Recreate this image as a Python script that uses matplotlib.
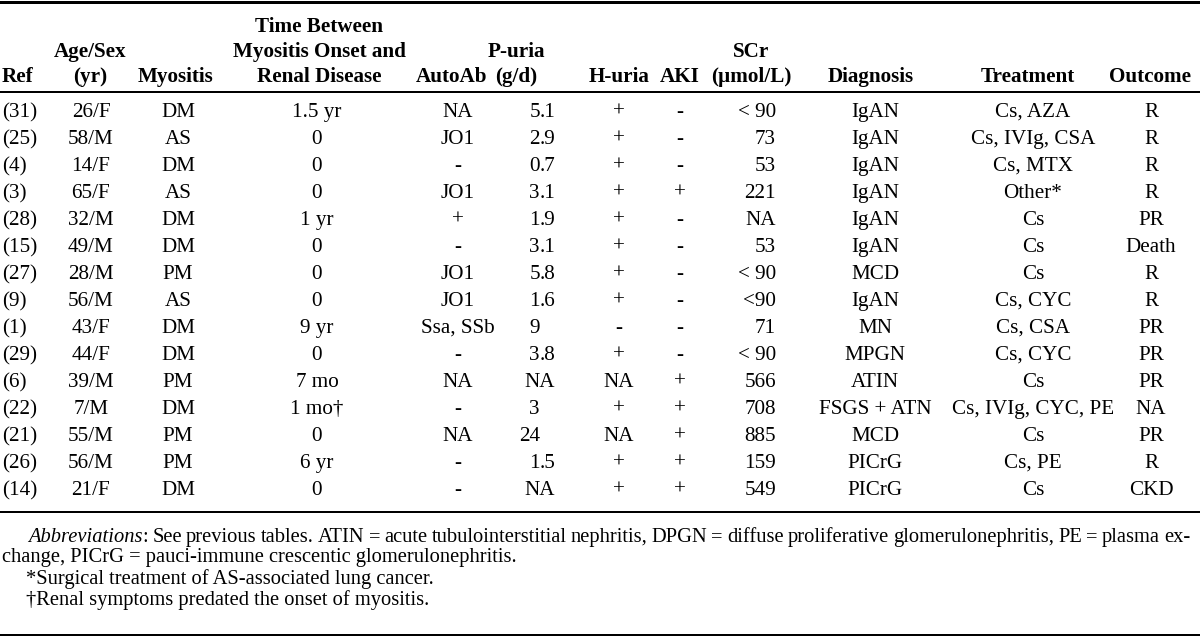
import matplotlib
matplotlib.use("Agg")
import matplotlib.pyplot as plt

# ---------------- data ----------------
refs = ["(31)", "(25)", "(4)", "(3)", "(28)", "(15)", "(27)", "(9)", "(1)", "(29)",
        "(6)", "(22)", "(21)", "(26)", "(14)"]
age_sex = ["26/F", "58/M", "14/F", "65/F", "32/M", "49/M", "28/M", "56/M", "43/F",
           "44/F", "39/M", "7/M", "55/M", "56/M", "21/F"]
myositis = ["DM", "AS", "DM", "AS", "DM", "DM", "PM", "AS", "DM", "DM", "PM", "DM",
            "PM", "PM", "DM"]
time_between = ["1.5 yr", "0", "0", "0", "1 yr", "0", "0", "0", "9 yr", "0", "7 mo",
                "1 mo\u2020", "0", "6 yr", "0"]
autoab = ["NA", "JO1", "-", "JO1", "+", "-", "JO1", "JO1", "Ssa, SSb", "-", "NA", "-",
          "NA", "-", "-"]
puria = ["5.1", "2.9", "0.7", "3.1", "1.9", "3.1", "5.8", "1.6", "9", "3.8", "NA", "3",
         "24", "1.5", "NA"]
huria = ["+", "+", "+", "+", "+", "+", "+", "+", "-", "+", "NA", "+", "NA", "+", "+"]
aki = ["-", "-", "-", "+", "-", "-", "-", "-", "-", "-", "+", "+", "+", "+", "+"]
scr = ["< 90", "73", "53", "221", "NA", "53", "< 90", "<90", "71", "< 90", "566",
       "708", "885", "159", "549"]
diagnosis = ["IgAN", "IgAN", "IgAN", "IgAN", "IgAN", "IgAN", "MCD", "IgAN", "MN",
             "MPGN", "ATIN", "FSGS + ATN", "MCD", "PICrG", "PICrG"]
treatment = ["Cs, AZA", "Cs, IVIg, CSA", "Cs, MTX", "Other*", "Cs", "Cs", "Cs",
             "Cs, CYC", "Cs, CSA", "Cs, CYC", "Cs", "Cs, IVIg, CYC, PE", "Cs",
             "Cs, PE", "Cs"]
outcome = ["R", "R", "R", "R", "PR", "Death", "R", "R", "PR", "PR", "PR", "NA", "PR",
           "R", "CKD"]

headers = [
    ["Ref"],
    ["Age/Sex", "(yr)"],
    ["Myositis"],
    ["Time Between", "Myositis Onset and", "Renal Disease"],
    ["AutoAb"],
    ["P-uria", "(g/d)"],
    ["H-uria"],
    ["AKI"],
    ["SCr", "(\u00b5mol/L)"],
    ["Diagnosis"],
    ["Treatment"],
    ["Outcome"],
]

abbrev_line1 = ("See previous tables. ATIN = acute tubulointerstitial nephritis, "
                "DPGN = diffuse proliferative glomerulonephritis, PE = plasma ex-")
abbrev_line2 = "change, PICrG = pauci-immune crescentic glomerulonephritis."
foot_star = "*Surgical treatment of AS-associated lung cancer."
foot_dagger = "\u2020Renal symptoms predated the onset of myositis."

# ---------------- layout ----------------
W, H = 1200, 637
FONT = "Liberation Serif"
FS = 15.2
FS_HDR = 15.2
FS_FOOT = 14.8

fig = plt.figure(figsize=(W / 100, H / 100), dpi=100)
ax = fig.add_axes([0, 0, 1, 1])
ax.set_xlim(0, W)
ax.set_ylim(H, 0)
ax.axis("off")

def px(w):
    return w * 72 / 100

# rules
ax.axhline(1.5, color="black", lw=px(3))
ax.axhline(92, color="black", lw=px(2))
ax.axhline(512, color="black", lw=px(2))
ax.axhline(634.5, color="black", lw=px(2))

# header
hdr_x = [2, 90, 176, 319, 452, 516, 619, 680, 751, 871, 1028, 1150]
hdr_ha = ["left"] + ["center"] * 11
hdr_rows = [25, 50, 75]
base_off = 7
for x, ha, lines in zip(hdr_x, hdr_ha, headers):
    n = len(lines)
    for i, s in enumerate(lines):
        y = hdr_rows[3 - n + i] + base_off
        ax.text(x, y, s, ha=ha, va="baseline", fontsize=FS_HDR, fontweight="bold",
                family=FONT)

# body
row0, dy = 110, 27
cols = [
    (refs, 2, "left"),
    (age_sex, 91, "center"),
    (myositis, 178, "center"),
    (time_between, 317, "center"),
    (autoab, 458, "center"),
    (huria, 619, "center"),
    (aki, 680, "center"),
    (scr, 776, "right"),
    (diagnosis, 875, "center"),
    (treatment, 1033, "center"),
    (outcome, 1151, "center"),
]
for i in range(len(refs)):
    y = row0 + i * dy + base_off
    for vals, x, ha in cols:
        ax.text(x, y, vals[i], ha=ha, va="baseline", fontsize=FS, family=FONT)
    # P-uria: decimal aligned
    v = puria[i]
    dec_x = 540
    if v == "NA":
        ax.text(dec_x, y, v, ha="center", va="baseline", fontsize=FS, family=FONT)
    elif "." in v:
        a, b = v.split(".")
        ax.text(dec_x, y, a, ha="right", va="baseline", fontsize=FS, family=FONT)
        ax.text(dec_x, y, "." + b, ha="left", va="baseline", fontsize=FS, family=FONT)
    else:
        ax.text(dec_x, y, v, ha="right", va="baseline", fontsize=FS, family=FONT)

# footnotes
fig.canvas.draw()
r = fig.canvas.get_renderer()

def width(t):
    return t.get_window_extent(renderer=r).width

y1 = 535 + base_off
x_start, x_end = 28, 1190
t_it = ax.text(x_start, y1, "Abbreviations", ha="left", va="baseline",
               fontsize=FS_FOOT, family=FONT, style="italic")
w_it = width(t_it)
tcol = ax.text(x_start + w_it, y1, ":", ha="left", va="baseline",
               fontsize=FS_FOOT, family=FONT)
w_col = width(tcol)
word_texts = []
word_widths = []
for wd in abbrev_line1.split(" "):
    t = ax.text(0, y1, wd, ha="left", va="baseline", fontsize=FS_FOOT, family=FONT)
    word_texts.append(t)
    word_widths.append(width(t))
avail = (x_end - x_start) - (w_it + w_col) - sum(word_widths)
gap = avail / len(word_texts)
cx = x_start + w_it + w_col + gap
for t, w in zip(word_texts, word_widths):
    t.set_x(cx)
    cx += w + gap

ax.text(2, 555 + base_off, abbrev_line2, ha="left", va="baseline",
        fontsize=FS_FOOT, family=FONT)
ax.text(26, 577 + base_off, foot_star, ha="left", va="baseline",
        fontsize=FS_FOOT, family=FONT)
ax.text(26, 598 + base_off, foot_dagger, ha="left", va="baseline",
        fontsize=FS_FOOT, family=FONT)

fig.savefig("out.png", dpi=100)
